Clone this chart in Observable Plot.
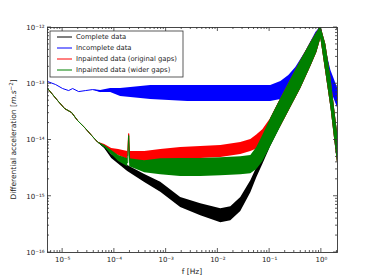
<!DOCTYPE html>
<html><head><meta charset="utf-8">
<script src="https://cdn.jsdelivr.net/npm/d3@7"></script>
<script src="https://cdn.jsdelivr.net/npm/@observablehq/plot@0.6"></script>
<style>body{margin:0;background:#fff;} #chart{width:374px;height:280px;}</style>
</head><body><div id="chart"></div>
<script>
const seriesNames = ["Complete data", "Incomplete data", "Inpainted data (original gaps)", "Inpainted data (wider gaps)"];
const seriesColors = ["#000000", "#0000ff", "#ff0000", "#008000"];

const xMajorTicks = [1e-5, 1e-4, 1e-3, 1e-2, 1e-1, 1];
const yMajorTicks = [1e-16, 1e-15, 1e-14, 1e-13, 1e-12];

// Complete data
const completeFreq = [5.13e-6, 6.41e-6, 8.0e-6, 1.093e-5, 1.49e-5, 1.95e-5, 2.67e-5, 3.64e-5, 4.75e-5,
  6.49e-5, 8.87e-5, 1.81e-4, 3.86e-4, 7.87e-4, 1.91e-3, 4.67e-3, 1.14e-2, 1.78e-2, 2.77e-2, 4.33e-2, 5.65e-2, 7.38e-2,
  0.105, 0.165, 0.257, 0.401, 0.626, 0.818, 0.977, 1.22, 1.53, 1.82, 2.08];
const completePsd = [8.22e-14, 6.43e-14, 5.02e-14, 3.62e-14, 3.08e-14, 2.21e-14, 1.66e-14, 1.20e-14, 9.18e-15,
  7.33e-15, 5.07e-15, 3.10e-15, 2.06e-15, 1.45e-15, 7.78e-16, 5.78e-16, 4.52e-16, 4.90e-16, 7.10e-16, 1.48e-15, 2.63e-15, 4.67e-15,
  1.355e-14, 3.08e-14, 6.70e-14, 1.46e-13, 3.31e-13, 5.41e-13, 8.15e-13, 2.81e-13, 6.97e-14, 1.80e-14, 6.48e-15];
const completeSpread = [1, 1, 1, 1, 1, 1, 1, 1, 1,
  1.042, 1.085, 1.131, 1.178, 1.227, 1.227, 1.279, 1.332, 1.332, 1.332, 1.279, 1.227, 1.279,
  1.775, 1.775, 1.775, 1.775, 1.635, 1.506, 1.279, 1.775, 1.849, 1.849, 1.849];

// Incomplete data
const incompleteFreq = [5.13e-6, 7.32e-6, 1.0e-5, 1.306e-5, 1.56e-5, 2.04e-5, 2.79e-5, 3.80e-5, 5.43e-5, 8.47e-5,
  1.32e-4, 2.07e-4, 5.04e-4, 2.62e-3, 1.78e-2, 7.38e-2, 0.105, 0.165, 0.235, 0.321, 0.501, 0.783, 0.977, 1.22, 1.53, 2.08];
const incompletePsd = [1.094e-13, 9.68e-14, 8.22e-14, 7.57e-14, 8.22e-14, 7.26e-14, 7.57e-14, 7.88e-14, 7.26e-14, 7.57e-14,
  6.97e-14, 6.97e-14, 6.97e-14, 6.70e-14, 6.70e-14, 6.70e-14, 6.70e-14, 7.57e-14, 9.68e-14, 1.34e-13, 2.59e-13, 5.87e-13, 8.84e-13, 2.81e-13, 1.14e-13, 5.46e-14];
const incompleteSpread = [1, 1, 1, 1, 1, 1, 1, 1, 1.042, 1.085,
  1.178, 1.227, 1.332, 1.388, 1.388, 1.388, 1.388, 1.446, 1.446, 1.446, 1.446, 1.388, 1.178, 1.446, 1.506, 1.506];

// Inpainted data (original gaps)
const origGapsFreq = [5.13e-6, 6.41e-6, 8.0e-6, 1.093e-5, 1.49e-5, 1.95e-5, 2.67e-5, 3.64e-5, 4.75e-5,
  6.49e-5, 8.87e-5, 1.21e-4, 1.81e-4, 1.89e-4, 1.98e-4, 3.86e-4, 7.87e-4, 1.91e-3, 4.67e-3, 1.14e-2, 2.77e-2, 4.33e-2, 5.65e-2, 7.38e-2,
  0.105, 0.165, 0.257, 0.401, 0.626, 0.818, 0.977, 1.22, 1.53, 1.82, 2.08];
const origGapsPsd = [8.22e-14, 6.43e-14, 5.02e-14, 3.62e-14, 3.08e-14, 2.21e-14, 1.66e-14, 1.20e-14, 9.18e-15,
  7.95e-15, 6.48e-15, 5.97e-15, 5.28e-15, 1.30e-14, 5.28e-15, 5.07e-15, 5.28e-15, 5.73e-15, 5.97e-15, 6.22e-15, 7.03e-15, 7.95e-15, 9.18e-15, 1.10e-14,
  1.60e-14, 3.08e-14, 6.70e-14, 1.46e-13, 3.31e-13, 5.41e-13, 8.15e-13, 2.81e-13, 6.97e-14, 1.80e-14, 6.48e-15];
const origGapsSpread = [1, 1, 1, 1, 1, 1, 1, 1, 1,
  1.042, 1.085, 1.131, 1.178, 1, 1.178, 1.227, 1.279, 1.279, 1.279, 1.279, 1.279, 1.279, 1.332, 1.388,
  1.506, 1.775, 1.775, 1.775, 1.635, 1.506, 1.279, 1.775, 1.849, 1.849, 1.849];

// Inpainted data (wider gaps)
const widerGapsFreq = [5.13e-6, 6.41e-6, 8.0e-6, 1.093e-5, 1.49e-5, 1.95e-5, 2.67e-5, 3.64e-5, 4.75e-5,
  6.49e-5, 8.87e-5, 1.21e-4, 1.81e-4, 1.89e-4, 1.98e-4, 3.86e-4, 7.87e-4, 1.91e-3, 4.67e-3, 1.14e-2, 2.77e-2, 4.33e-2, 5.65e-2, 7.38e-2,
  0.105, 0.165, 0.257, 0.401, 0.626, 0.818, 0.977, 1.22, 1.53, 1.82, 2.08];
const widerGapsPsd = [8.22e-14, 6.43e-14, 5.02e-14, 3.62e-14, 3.08e-14, 2.21e-14, 1.66e-14, 1.20e-14, 9.18e-15,
  7.63e-15, 5.97e-15, 4.67e-15, 3.96e-15, 1.20e-14, 3.96e-15, 3.36e-15, 3.36e-15, 3.23e-15, 3.23e-15, 3.36e-15, 3.50e-15, 3.65e-15, 4.67e-15, 7.03e-15,
  1.355e-14, 3.08e-14, 6.70e-14, 1.46e-13, 3.31e-13, 5.41e-13, 8.15e-13, 2.81e-13, 6.97e-14, 1.80e-14, 6.48e-15];
const widerGapsSpread = [1, 1, 1, 1, 1, 1, 1, 1, 1,
  1.042, 1.085, 1.131, 1.178, 1, 1.178, 1.279, 1.388, 1.446, 1.446, 1.446, 1.446, 1.446, 1.570, 1.704,
  1.775, 1.775, 1.775, 1.775, 1.635, 1.506, 1.279, 1.775, 1.849, 1.849, 1.849];

const seriesArrays = [
  [completeFreq, completePsd, completeSpread],
  [incompleteFreq, incompletePsd, incompleteSpread],
  [origGapsFreq, origGapsPsd, origGapsSpread],
  [widerGapsFreq, widerGapsPsd, widerGapsSpread]
];

const sup = {"-": "⁻", "0": "⁰", "1": "¹", "2": "²", "3": "³", "4": "⁴", "5": "⁵", "6": "⁶", "7": "⁷", "8": "⁸", "9": "⁹"};
const fmt = d => "10" + String(Math.round(Math.log10(d))).split("").map(c => sup[c]).join("");

const marks = [];
seriesArrays.forEach(([fr, ps, sp], i) => {
  const rows = fr.map((f, j) => ({f, v: ps[j], lo: ps[j] / sp[j], hi: ps[j] * sp[j]}));
  marks.push(Plot.areaY(rows, {x: "f", y1: "lo", y2: "hi", fill: seriesColors[i], fillOpacity: 1, clip: true}));
  marks.push(Plot.line(rows, {x: "f", y: "v", stroke: seriesColors[i], strokeWidth: 1, clip: true}));
});

const chart = Plot.plot({
  width: 374, height: 280,
  marginLeft: 47, marginRight: 37, marginTop: 27, marginBottom: 28,
  style: {fontFamily: "DejaVu Sans", fontSize: "7px", background: "#fff", color: "#222"},
  x: {type: "log", domain: [5.1e-6, 2.05]},
  y: {type: "log", domain: [1e-16, 1e-12]},
  marks: [
    ...marks,
    Plot.axisX(xMajorTicks, {anchor: "bottom", tickSize: 0, tickPadding: 5, tickFormat: fmt, label: null, fontSize: 7}),
    Plot.axisY(yMajorTicks, {anchor: "left", tickSize: 0, tickPadding: 3, tickFormat: fmt, label: null, fontSize: 7}),
    Plot.frame({stroke: "#333", strokeWidth: 0.9})
  ]
});

// inward ticks on all four sides (matplotlib style), using the chart's scales
const xs = chart.scale("x"), ys = chart.scale("y");
const [xl, xr] = xs.range, [yb, yt] = ys.range;
const g = d3.select(chart).append("g").attr("stroke", "#333").attr("stroke-width", 0.8);
function minorList(lo, hi) {
  const out = [];
  for (let k = Math.floor(Math.log10(lo)); k <= Math.ceil(Math.log10(hi)); k++)
    for (let m = 1; m <= 9; m++) { const v = m * Math.pow(10, k); if (v >= lo && v <= hi) out.push([v, m === 1]); }
  return out;
}
minorList(xs.domain[0], xs.domain[1]).forEach(([v, major]) => {
  const px = xs.apply(v), len = major ? 4 : 2;
  g.append("line").attr("x1", px).attr("x2", px).attr("y1", yb).attr("y2", yb - len);
  g.append("line").attr("x1", px).attr("x2", px).attr("y1", yt).attr("y2", yt + len);
});
minorList(ys.domain[0], ys.domain[1]).forEach(([v, major]) => {
  const py = ys.apply(v), len = major ? 4 : 2;
  g.append("line").attr("y1", py).attr("y2", py).attr("x1", xl).attr("x2", xl + len);
  g.append("line").attr("y1", py).attr("y2", py).attr("x1", xr).attr("x2", xr - len);
});

// axis labels
const svg = d3.select(chart);
svg.append("text").attr("x", (xl + xr) / 2).attr("y", 274).attr("text-anchor", "middle")
  .attr("font-size", 7.5).attr("fill", "#222").text("f [Hz]");
const yl = svg.append("text").attr("transform", `translate(16,${(yb + yt) / 2}) rotate(-90)`)
  .attr("text-anchor", "middle").attr("font-size", 7.5).attr("fill", "#222");
yl.append("tspan").text("Differential acceleration [");
yl.append("tspan").attr("font-style", "italic").text("m.s");
yl.append("tspan").attr("font-size", 5.5).attr("dy", -3).text("−2");
yl.append("tspan").attr("dy", 3).text("]");

// legend
const lg = svg.append("g");
lg.append("rect").attr("x", xl + 3).attr("y", yt + 4).attr("width", 133).attr("height", 46)
  .attr("fill", "#fff").attr("stroke", "#333").attr("stroke-width", 0.8);
seriesNames.forEach((name, i) => {
  const y = yt + 10 + i * 11;
  lg.append("line").attr("x1", xl + 10).attr("x2", xl + 25).attr("y1", y).attr("y2", y)
    .attr("stroke", seriesColors[i]).attr("stroke-width", 1);
  lg.append("text").attr("x", xl + 29).attr("y", y).attr("dy", "0.35em").attr("font-size", 6.8)
    .attr("text-anchor", "start").attr("fill", "#222").text(name);
});

document.getElementById("chart").appendChild(chart);
</script>
</body></html>
